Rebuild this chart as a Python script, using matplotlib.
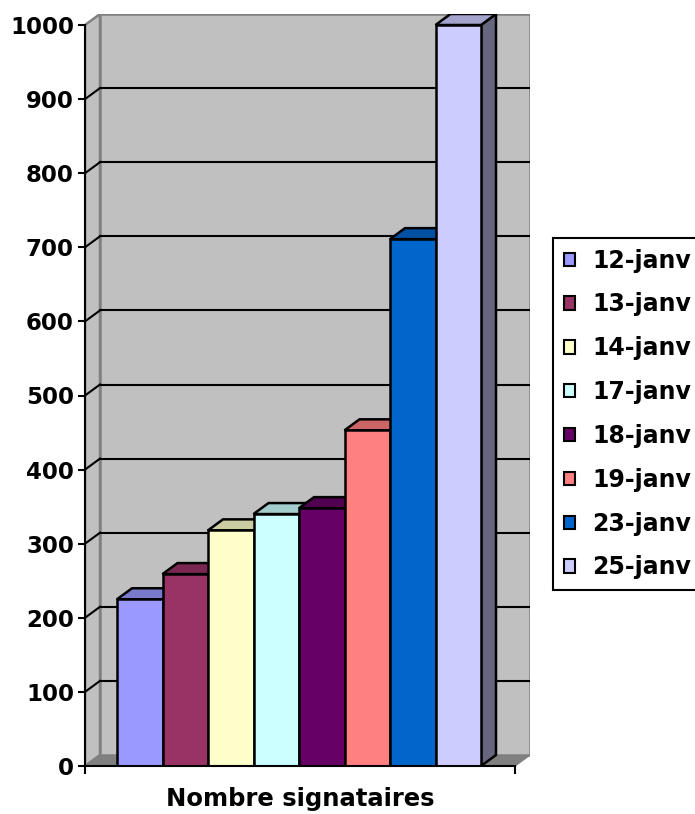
import matplotlib
matplotlib.use("Agg")
from matplotlib import pyplot as plt
from matplotlib.patches import Polygon, Rectangle, Patch

dates = ["12-janv", "13-janv", "14-janv", "17-janv", "18-janv", "19-janv", "23-janv", "25-janv"]
signataires = [225, 259, 318, 340, 348, 453, 711, 1000]
colors = ["#9999FF", "#993366", "#FFFFCC", "#CCFFFF", "#660066", "#FF8080", "#0066CC", "#CCCCFF"]
yticks = [0, 100, 200, 300, 400, 500, 600, 700, 800, 900, 1000]
category = "Nombre signataires"

plt.rcParams['font.family'] = ['DejaVu Sans']
plt.rcParams['font.weight'] = 'bold'

W, H = 695, 814
fig = plt.figure(figsize=(W / 100, H / 100), dpi=100)

# pixel layout of the 3d box (front plane 85..515, depth 15px right / 11px up)
px0, px_back, py0, py1000 = 85, 530, 766, 25
bar_left, bar_w = 117, 45.5
ppu = (py0 - py1000) / 1000.0
ytop = (py0 - 14) / ppu
ax = fig.add_axes([px0 / W, (H - py0) / H, (px_back - px0) / W, (py0 - 14) / H])
a = -(bar_left - px0) / bar_w
b = (px_back - bar_left) / bar_w
ax.set_xlim(a, b)
ax.set_ylim(0, ytop)
dx = 15 / bar_w
dy = 11 / ppu
front_end = a + (515 - px0) / bar_w

# floor
ax.add_patch(Polygon([(a, 0), (front_end, 0), (front_end + dx, dy), (a + dx, dy)],
                     closed=True, facecolor="#808080", edgecolor="#808080", lw=1, zorder=1))
# left wall and back wall
ax.add_patch(Polygon([(a, 0), (a + dx, dy), (a + dx, 1000 + dy), (a, 1000)],
                     closed=True, facecolor="#C0C0C0", edgecolor="#808080", lw=1.8, zorder=1))
ax.add_patch(Rectangle((a + dx, dy), b - a - dx, 1000, facecolor="#C0C0C0",
                       edgecolor="#808080", lw=1.8, zorder=1))
for v in yticks[1:-1]:
    ax.plot([a + dx, b], [v + dy, v + dy], color="black", lw=1.5, zorder=2)
    ax.plot([a, a + dx], [v, v + dy], color="black", lw=1.5, zorder=2)


def shade(c, f):
    c = c.lstrip("#")
    r, g, bb = (int(c[k:k + 2], 16) for k in (0, 2, 4))
    return "#%02X%02X%02X" % (int(r * f), int(g * f), int(bb * f))


for i, (v, c) in enumerate(zip(signataires, colors)):
    z = 3 + i
    ax.add_patch(Polygon([(i + 1, 0), (i + 1 + dx, dy), (i + 1 + dx, v + dy), (i + 1, v)],
                         closed=True, facecolor=shade(c, 0.5), edgecolor="black", lw=1.8, zorder=z))
    ax.add_patch(Polygon([(i, v), (i + dx, v + dy), (i + 1 + dx, v + dy), (i + 1, v)],
                         closed=True, facecolor=shade(c, 0.8), edgecolor="black", lw=1.8, zorder=z))
    ax.add_patch(Rectangle((i, 0), 1, v, facecolor=c, edgecolor="black", lw=1.8, zorder=z))

for s in ["top", "right"]:
    ax.spines[s].set_visible(False)
ax.spines['left'].set_bounds(0, 1000)
ax.spines['bottom'].set_bounds(a, front_end)
ax.spines['left'].set_zorder(20)
ax.spines['bottom'].set_zorder(20)
ax.spines['left'].set_linewidth(1.5)
ax.spines['bottom'].set_linewidth(1.5)
ax.set_facecolor("none")
ax.set_yticks(yticks)
ax.set_yticklabels([str(t) for t in yticks])
ax.tick_params(axis='y', direction='out', length=5, width=1.5, pad=3, labelsize=16.5)
ax.set_xticks([a, front_end])
ax.set_xticklabels(["", ""])
ax.set_xticks([(a + front_end) / 2], minor=True)
ax.set_xticklabels([category], minor=True, fontsize=17.5, fontweight='bold')
ax.tick_params(axis='x', which='major', direction='out', length=6, width=1.5)
ax.tick_params(axis='x', which='minor', length=0, pad=15)
for lab in ax.get_yticklabels():
    lab.set_fontweight('bold')

handles = [Patch(facecolor=c, edgecolor="black", lw=1.5) for c in colors]
leg = fig.legend(handles, dates, loc='upper left', bbox_to_anchor=(553 / W, 1 - 238 / H),
                 prop={'size': 17, 'weight': 'bold'}, handlelength=0.5, handleheight=0.5,
                 handletextpad=0.7, labelspacing=0.84, borderpad=0.45, borderaxespad=0,
                 fancybox=False, framealpha=1)
leg.get_frame().set_edgecolor("black")
leg.get_frame().set_linewidth(1.5)

fig.savefig("out.png", dpi=100, facecolor="white")
